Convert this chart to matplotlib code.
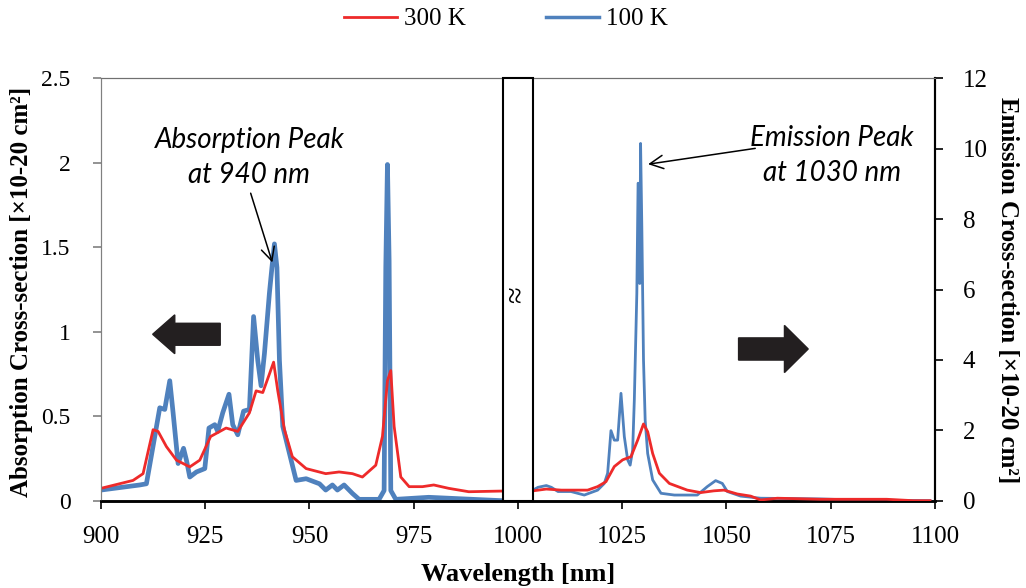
import numpy as np
import matplotlib.pyplot as plt
import matplotlib.patches as mpatches
from matplotlib.transforms import blended_transform_factory

# Absorption cross-section (left axis), wavelength in nm
abs_100_nm = [900, 909.3, 910.9, 912.9, 914.1, 915.3, 916.5, 917.3, 918.5, 919.8, 920.5, 921.3,
              922.9, 924.9, 925.9, 927.3, 928.0, 929.2, 930.7, 931.6, 932.8, 934.2, 935.6, 936.6,
              937.6, 938.4, 939.2, 940.4, 941.0, 941.6, 942.2, 942.8, 943.6, 945.2, 946.8, 949.2,
              952.4, 953.9, 955.5, 956.7, 958.3, 960.3, 961.9, 966.7, 967.9, 968.3, 968.7, 969.1,
              969.5, 970.7, 978.6, 996.2]
abs_100_val = [0.063, 0.093, 0.10, 0.38, 0.55, 0.54, 0.71, 0.52, 0.22, 0.31, 0.24, 0.14,
               0.17, 0.19, 0.43, 0.45, 0.41, 0.52, 0.63, 0.45, 0.39, 0.53, 0.54, 1.09,
               0.83, 0.68, 0.87, 1.23, 1.38, 1.52, 1.38, 0.83, 0.44, 0.28, 0.12, 0.13,
               0.10, 0.063, 0.093, 0.063, 0.093, 0.043, 0.008, 0.008, 0.06, 1.38, 1.99, 1.42,
               0.06, 0.008, 0.02, 0.0]

abs_300_nm = [900, 907.7, 910.1, 912.5, 913.7, 915.7, 918.1, 921.3, 923.7, 926.3, 930.0, 932.8,
              935.6, 937.2, 938.8, 940.4, 941.4, 942.4, 944.0, 945.9, 949.2, 953.9, 957.1, 960.3,
              962.7, 965.9, 967.5, 968.7, 969.5, 970.3, 971.9, 973.9, 977.1, 979.8, 983.4, 988.2,
              996.2]
abs_300_val = [0.073, 0.12, 0.16, 0.42, 0.41, 0.32, 0.24, 0.20, 0.24, 0.38, 0.43, 0.41,
               0.52, 0.65, 0.64, 0.75, 0.82, 0.65, 0.42, 0.26, 0.19, 0.16, 0.17, 0.16,
               0.14, 0.21, 0.38, 0.71, 0.77, 0.44, 0.14, 0.083, 0.083, 0.093, 0.073, 0.053,
               0.057]

# Emission cross-section (right axis)
em_100_nm = [1003.6, 1004.8, 1006.8, 1008.0, 1009.6, 1012.7, 1015.9, 1019.1, 1020.7, 1021.5,
             1022.3, 1023.1, 1023.9, 1024.7, 1025.5, 1026.3, 1026.9, 1027.5, 1027.9, 1028.5,
             1028.8, 1029.2, 1029.4, 1029.7, 1030.1, 1030.5, 1031.1, 1032.3, 1034.3, 1037.5,
             1040.6, 1043.0, 1045.4, 1047.4, 1049.0, 1050.2, 1053.4, 1058.2, 1072.5, 1080.5,
             1098.8]
em_100_val = [0.30, 0.38, 0.43, 0.38, 0.26, 0.26, 0.16, 0.30, 0.49, 0.78,
              1.99, 1.72, 1.72, 3.05, 1.82, 1.16, 1.01, 1.44, 2.86, 5.89,
              9.02, 6.17, 10.15, 7.78, 4.0, 2.29, 1.34, 0.59, 0.21, 0.16,
              0.16, 0.16, 0.40, 0.57, 0.49, 0.26, 0.13, 0.07, 0.05, 0.02,
              0.0]

em_300_nm = [1003.6, 1006.8, 1010.4, 1016.7, 1019.1, 1021.1, 1023.1, 1025.1, 1027.1, 1028.7,
             1030.1, 1031.1, 1032.3, 1033.9, 1036.3, 1040.6, 1043.8, 1047.0, 1049.4, 1052.6,
             1055.8, 1058.2, 1062.2, 1072.5, 1088.4, 1094.8, 1098.8]
em_300_val = [0.28, 0.33, 0.30, 0.30, 0.40, 0.54, 0.97, 1.16, 1.25, 1.72,
              2.18, 1.96, 1.34, 0.78, 0.49, 0.30, 0.23, 0.28, 0.30, 0.19,
              0.13, 0.02, 0.07, 0.04, 0.04, 0.0, 0.0]

red = '#ee2a2a'
blue = '#4f81bd'
serif = 'Liberation Serif'

fig = plt.figure(figsize=(10.26, 5.88), dpi=100)
ax = fig.add_axes([0.0984, 0.1485, 0.8129, 0.7183])
ax2 = ax.twinx()

ax.plot(abs_300_nm, abs_300_val, color=red, lw=2, zorder=3)
ax.plot(abs_100_nm, abs_100_val, color=blue, lw=3.4, zorder=2)
ax2.plot(em_300_nm, em_300_val, color=red, lw=2, zorder=3)
ax2.plot(em_100_nm, em_100_val, color=blue, lw=2, zorder=2)

ax.set_xlim(900, 1100)
ax.set_ylim(0, 2.5)
ax2.set_ylim(0, 12)
ax.set_xticks(np.arange(900, 1101, 25))
ax.set_yticks([0, 0.5, 1, 1.5, 2, 2.5])
ax.set_yticklabels(['0', '0.5', '1', '1.5', '2', '2.5'])
ax2.set_yticks(np.arange(0, 13, 2))

ax.tick_params(axis='x', direction='out', length=6, width=1.2, labelsize=18, pad=12)
ax.tick_params(axis='y', direction='out', length=6, width=1.2, labelsize=17, pad=16,
               colors='#808080', labelcolor='black')
ax2.tick_params(axis='y', direction='out', length=6, width=1.2, labelsize=18, pad=14)
for lab in ax.get_xticklabels() + ax.get_yticklabels() + ax2.get_yticklabels():
    lab.set_fontfamily(serif)

for a in (ax, ax2):
    a.spines['top'].set_color('#707070')
    a.spines['left'].set_color('#808080')
    a.spines['bottom'].set_color('black')
    a.spines['bottom'].set_linewidth(1.8)
    a.spines['right'].set_color('black')
    a.spines['right'].set_linewidth(1.5)

ax.set_xlabel('Wavelength [nm]', fontsize=19, fontweight='bold', family=serif, labelpad=11)
fig.text(0.0205, 0.503, 'Absorption Cross-section [×10-20 cm²]', fontsize=18,
         fontweight='bold', family=serif, rotation=90, ha='center', va='center')
fig.text(0.9815, 0.506, 'Emission Cross-section [×10-20 cm²]', fontsize=18,
         fontweight='bold', family=serif, rotation=-90, ha='center', va='center')

# axis break box
tr = blended_transform_factory(ax2.transData, ax2.transAxes)
ax2.add_patch(mpatches.Rectangle((996.3, 0), 7.2, 1, transform=tr, facecolor='white',
                                 edgecolor='black', lw=1.5, zorder=10, clip_on=False))
ax2.text(999.9, 0.487, '≈', transform=tr, rotation=90, ha='center', va='center',
         fontsize=22, family=serif, zorder=11)

# block arrows
ax.add_patch(mpatches.FancyArrow(928.6, 0.985, -16.2, 0, width=0.13, head_width=0.23,
                                 head_length=5.3, length_includes_head=True,
                                 color='#231f20', zorder=5))
ax2.add_patch(mpatches.FancyArrow(1052.9, 4.31, 16.7, 0, width=0.63, head_width=1.34,
                                  head_length=5.7, length_includes_head=True,
                                  color='#231f20', zorder=5))

# annotations
ax.text(935.6, 2.03, 'Absorption Peak\nat 940 nm', ha='center', va='center', fontsize=20,
        style='italic', family='Lato', linespacing=1.45)
ax.annotate('', xy=(941.1, 1.41), xytext=(935.9, 1.82),
            arrowprops=dict(arrowstyle='->', color='black', lw=1.1, mutation_scale=24,
                            shrinkA=0, shrinkB=0))
ax2.text(1075.2, 9.81, 'Emission Peak\nat 1030 nm', ha='center', va='center', fontsize=20,
         style='italic', family='Lato', linespacing=1.45)
ax2.annotate('', xy=(1031.2, 9.56), xytext=(1056.9, 10.01),
             arrowprops=dict(arrowstyle='->', color='black', lw=1.1, mutation_scale=24,
                             shrinkA=0, shrinkB=0))

handles = [plt.Line2D([], [], color=red, lw=2), plt.Line2D([], [], color=blue, lw=2.5)]
fig.legend(handles, ['300 K', '100 K'], loc='upper center', bbox_to_anchor=(0.4927, 1.025),
           ncol=2, frameon=False, handlelength=2.15, handletextpad=0.25, columnspacing=3.2,
           prop={'family': serif, 'size': 18})

fig.savefig('out.png', dpi=100)
